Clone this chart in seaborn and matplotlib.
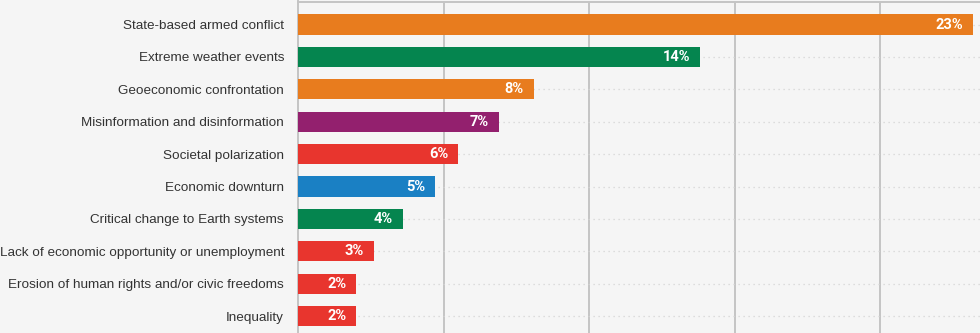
import matplotlib
matplotlib.use("Agg")
import matplotlib.pyplot as plt
import seaborn as sns
import pandas as pd

categories = [
    "State-based armed conflict",
    "Extreme weather events",
    "Geoeconomic confrontation",
    "Misinformation and disinformation",
    "Societal polarization",
    "Economic downturn",
    "Critical change to Earth systems",
    "Lack of economic opportunity or unemployment",
    "Erosion of human rights and/or civic freedoms",
    "Inequality",
]
values = [23.2, 13.8, 8.1, 6.9, 5.5, 4.7, 3.6, 2.6, 2.0, 2.0]
value_labels = ["23%", "14%", "8%", "7%", "6%", "5%", "4%", "3%", "2%", "2%"]
colors = ["#e87c1e", "#05854f", "#e87c1e", "#93206e", "#e8352e",
          "#1a80c4", "#05854f", "#e8352e", "#e8352e", "#e8352e"]

df = pd.DataFrame({"risk": categories, "share": values})

sns.set_theme(style="white")
plt.rcParams["font.family"] = ["Liberation Sans", "DejaVu Sans"]

fig = plt.figure(figsize=(9.8, 3.33), dpi=100)
fig.patch.set_facecolor("#f5f5f5")
ax = fig.add_axes([298 / 980, 0.0, 1 - 298 / 980, 1 - 1.5 / 333])
ax.set_facecolor("#f5f5f5")

sns.barplot(data=df, y="risk", x="share", hue="risk", palette=colors,
            saturation=1, legend=False, orient="h", width=0.62, ax=ax,
            zorder=3, edgecolor="none")

for i, (v, lab) in enumerate(zip(values, value_labels)):
    ax.annotate(lab, xy=(v, i), xytext=(-7, 0), textcoords="offset points",
                ha="right", va="center", color="white", fontweight="bold",
                fontsize=10.5, family=["Roboto", "DejaVu Sans"], zorder=4)

ax.set_xlim(0, (980 - 298) / 29.1)
ax.set_ylim(9.52, -0.71)
ax.set_xticks([5, 10, 15, 20])
ax.set_xticklabels([])
ax.tick_params(axis="x", length=0)
ax.tick_params(axis="y", length=0, pad=10, labelsize=9.7, labelcolor="#333333")
ax.set_xlabel("")
ax.set_ylabel("")

ax.grid(axis="x", color="#c4c4c4", linewidth=1.4, zorder=1)
ax.grid(axis="y", color="#d4d4d4", linewidth=0.9, linestyle=(0, (1, 3)), zorder=1)
ax.set_axisbelow(True)

for side in ["right", "bottom"]:
    ax.spines[side].set_visible(False)
ax.spines["left"].set_color("#c4c4c4")
ax.spines["left"].set_linewidth(1.4)
ax.spines["top"].set_color("#c4c4c4")
ax.spines["top"].set_linewidth(1.4)

fig.savefig("out.png", dpi=100, facecolor=fig.get_facecolor())
